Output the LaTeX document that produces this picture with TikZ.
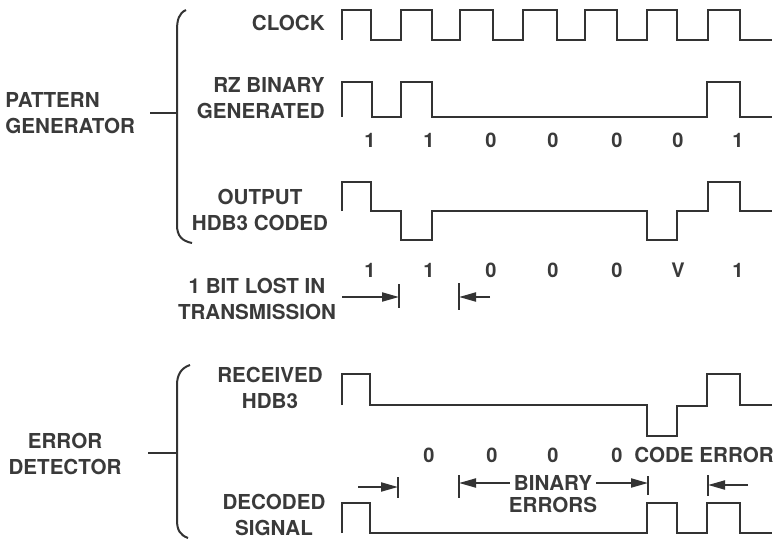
\documentclass[tikz,border=0pt]{standalone}
\usepackage{fontspec}
\setmainfont{TeX Gyre Heros}
\usetikzlibrary{arrows.meta}

\begin{document}
\begin{tikzpicture}[x=0.5pt, y=-0.5pt,
    label/.style={font=\fontsize{10.3}{13}\selectfont\bfseries, text=textColour, align=center, inner sep=0pt},
    bit/.style={font=\fontsize{10}{12}\selectfont\bfseries, text=textColour, inner sep=0pt},
    wave/.style={draw=lineColour, line width=1.3pt, line join=miter},
    brace/.style={draw=lineColour, line width=1pt},
    tick/.style={draw=lineColour, line width=1pt},
    arr/.style={draw=lineColour, line width=1pt, -{Triangle[length=8.5pt,width=4.5pt]}}]

    \definecolor{textColour}{HTML}{3A3A3A}
    \definecolor{lineColour}{HTML}{333333}

    \useasboundingbox (0,0) rectangle (781,540);

    % Group labels and brackets
    \node[label, align=left, anchor=west] (patgen) at (5,113) {PATTERN\\GENERATOR};
    \node[label] (errdet) at (65,454) {ERROR\\DETECTOR};
    \coordinate (pgBrace) at (177,113);
    \coordinate (edBrace) at (177,453);
    \draw[brace] (186,10) .. controls (179,13) and (177,20) .. (177,30) -- (177,225) .. controls (177,236) and (182,241) .. (192,243);
    \draw[brace] (190,365) .. controls (181,368) and (177,375) .. (177,385) -- (177,520) .. controls (177,530) and (180,535) .. (188,538);
    \draw[brace] (pgBrace) -- ++(-27,0);
    \draw[brace] (edBrace) -- ++(-29,0);

    % Signal labels
    \node[label, anchor=east] (clock) at (325,23) {CLOCK};
    \node[label, align=right, anchor=east] (rzbin) at (325,98) {RZ BINARY\\GENERATED};
    \node[label] (output) at (260,210) {OUTPUT\\HDB3 CODED};
    \node[label] (lost) at (257,299) {1 BIT LOST IN\\TRANSMISSION};
    \node[label] (received) at (270,388) {RECEIVED\\HDB3};
    \node[label] (decoded) at (274,515) {DECODED\\SIGNAL};

    % Clock
    \draw[wave] (342,40) \foreach \r/\f in {342/371,401/432,460/493,523/557,585/617,647/677,708/740} { -- (\r,40) -- (\r,10) -- (\f,10) -- (\f,40) } -- (772,40);

    % RZ binary generated
    \draw[wave] (342,117) -- (342,82) -- (372,82) -- (372,117) -- (401,117) -- (401,82) -- (432,82) -- (432,117)
        -- (707,117) -- (707,82) -- (740,82) -- (740,117) -- (772,117);
    \foreach \x/\b in {370/1,429/1,491/0,553/0,617/0,678/0,738/1}
        \node[bit] (rz\x) at (\x,140) {\b};

    % Output HDB3 coded
    \draw[wave] (342,211) -- (342,182) -- (371,182) -- (371,211) -- (401,211) -- (401,240) -- (432,240) -- (432,211)
        -- (647,211) -- (647,240) -- (677,240) -- (677,211) -- (708,211) -- (708,182) -- (740,182) -- (740,211) -- (772,211);
    \foreach \x/\b in {370/1,429/1,491/0,553/0,617/0,678/V,738/1}
        \node[bit] (hd\x) at (\x,270) {\b};

    % Lost bit markers
    \coordinate (lostL) at (399,297);
    \coordinate (lostR) at (459,297);
    \coordinate (lostFromL) at (342,297);
    \coordinate (lostFromR) at (490,297);
    \draw[tick] (lostL) ++(0,-13) -- ++(0,24);
    \draw[tick] (lostR) ++(0,-14) -- ++(0,27);
    \draw[arr] (lostFromL) -- (lostL);
    \draw[arr] (lostFromR) -- (lostR);

    % Received HDB3
    \draw[wave] (342,405) -- (342,374) -- (370,374) -- (370,405) -- (647,405) -- (647,436) -- (677,436) -- (677,406)
        -- (707,406) -- (707,374) -- (740,374) -- (740,405) -- (772,405);
    \foreach \x/\b in {429/0,492/0,553/0,617/0}
        \node[bit] (rx\x) at (\x,455) {\b};
    \node[label] (codeerr) at (704,455) {CODE ERROR};

    % Error markers
    \node[label] (binary) at (553,483) {BINARY};
    \node[label] (errors) at (553,505) {ERRORS};
    \coordinate (errA) at (398,487);
    \coordinate (errB) at (459,486);
    \coordinate (errC) at (648,485);
    \coordinate (errD) at (708,485);
    \coordinate (errFromA) at (358,487);
    \coordinate (errFromD) at (748,485);
    \draw[tick] (errA) ++(0,-10) -- ++(0,21);
    \draw[tick] (errB) ++(0,-11) -- ++(0,23);
    \draw[tick] (errC) ++(0,-9) -- ++(0,19);
    \draw[tick] (errD) ++(0,-10) -- ++(0,21);
    \draw[arr] (errFromA) -- (errA);
    \draw[arr] ([xshift=-2pt]binary.west) -- (binary.west -| errB);
    \draw[arr] ([xshift=2pt]binary.east) -- (binary.east -| errC);
    \draw[arr] (errFromD) -- (errD);

    % Decoded signal
    \draw[wave] (342,533) -- (342,503) -- (370,503) -- (370,533) -- (647,533) -- (647,503) -- (677,503) -- (677,533)
        -- (707,533) -- (707,503) -- (740,503) -- (740,533) -- (772,533);

\end{tikzpicture}
\end{document}
